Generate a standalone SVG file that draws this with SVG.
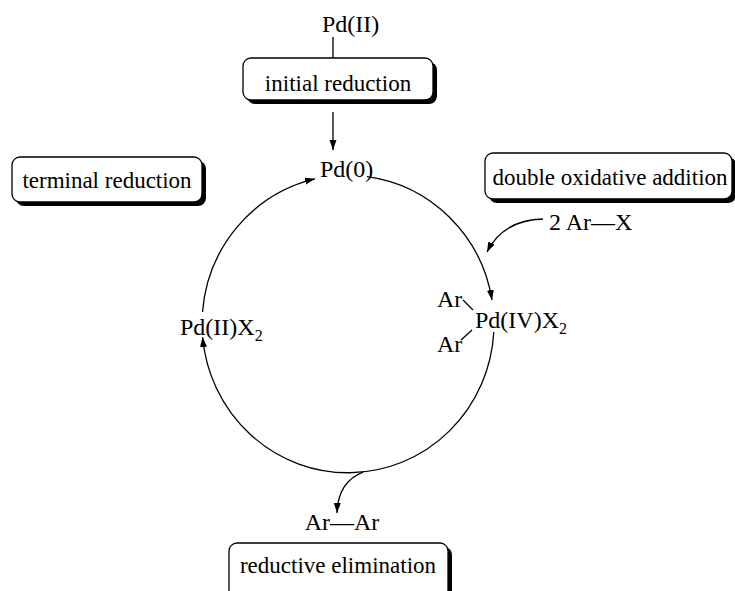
<svg xmlns="http://www.w3.org/2000/svg" width="735" height="591" viewBox="0 0 735 591">
<style>
text{font-family:"Liberation Serif","Times New Roman",serif;fill:#000}
.lbl{font-size:23px}
.chem{font-size:24px}
.sub{font-size:16px}
.box{fill:#fff;stroke:#000;stroke-width:1.3}
.shadow{fill:#000;stroke:none}
.ln{fill:none;stroke:#000;stroke-width:1.3}
</style>
<defs>
<marker id="ah" markerUnits="userSpaceOnUse" markerWidth="11" markerHeight="8" refX="10" refY="3.5" orient="auto">
<path d="M0,0 L10,3.5 L0,7 z" fill="#000"/>
</marker>
</defs>
<rect width="735" height="591" fill="#fff"/>

<g id="connectors">
<line class="ln" x1="333" y1="37" x2="333" y2="58"/>
<line class="ln" x1="333" y1="112" x2="333" y2="150" marker-end="url(#ah)"/>
<path class="ln" d="M367,176.6 A146,149 0 0 1 492,300" marker-end="url(#ah)"/>
<path class="ln" d="M493.8,332 A146,149 0 0 1 202.6,337" marker-end="url(#ah)"/>
<path class="ln" d="M202.5,312 A146,149 0 0 1 315,178.8" marker-end="url(#ah)"/>
<path class="ln" d="M363,472.2 Q338,482 337,513" marker-end="url(#ah)"/>
<path class="ln" d="M543,219 Q503,220 487,252" marker-end="url(#ah)"/>
<line class="ln" x1="463" y1="300" x2="473" y2="310"/>
<line class="ln" x1="461" y1="340" x2="472" y2="330"/>
</g>

<g id="pd2-top">
<text class="chem" x="322" y="32">Pd(II)</text>
</g>

<g id="initial-reduction">
<rect class="shadow" x="247" y="62" width="190" height="42" rx="8"/>
<rect class="box" x="243" y="58" width="190" height="42" rx="8"/>
<text class="lbl" x="338" y="91" text-anchor="middle">initial reduction</text>
</g>

<g id="pd0">
<text class="chem" x="320" y="177">Pd(0)</text>
</g>

<g id="terminal-reduction">
<rect class="shadow" x="16" y="161" width="190" height="45" rx="8"/>
<rect class="box" x="12" y="157" width="190" height="45" rx="8"/>
<text class="lbl" x="107" y="188" text-anchor="middle">terminal reduction</text>
</g>

<g id="double-oxidative-addition">
<rect class="shadow" x="489" y="157" width="247" height="46" rx="8"/>
<rect class="box" x="485" y="153" width="247" height="46" rx="8"/>
<text class="lbl" x="610" y="185" text-anchor="middle">double oxidative addition</text>
</g>

<g id="arx">
<text class="chem" x="549" y="230">2 Ar—X</text>
</g>

<g id="pd4">
<text class="chem" x="437" y="307">Ar</text>
<text class="chem" x="437" y="352">Ar</text>
<text class="chem" x="475" y="328">Pd(IV)X<tspan class="sub" dy="6">2</tspan></text>
</g>

<g id="pd2x2">
<text class="chem" x="180" y="335">Pd(II)X<tspan class="sub" dy="6">2</tspan></text>
</g>

<g id="arar">
<text class="chem" x="342" y="530" text-anchor="middle">Ar—Ar</text>
</g>

<g id="reductive-elimination">
<rect class="shadow" x="233" y="547" width="219" height="56" rx="8"/>
<rect class="box" x="229" y="543" width="219" height="56" rx="8"/>
<text class="lbl" x="338" y="573" text-anchor="middle">reductive elimination</text>
</g>
</svg>
